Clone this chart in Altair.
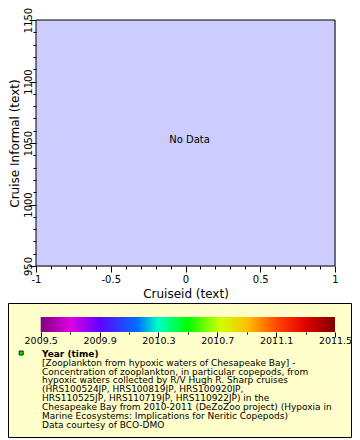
import altair as alt
import pandas as pd

# ---- data ----
x_ticks = [-1.0, -0.9, -0.8, -0.7, -0.6, -0.5, -0.4, -0.3, -0.2, -0.1, 0.0,
           0.1, 0.2, 0.3, 0.4, 0.5, 0.6, 0.7, 0.8, 0.9, 1.0]
y_ticks = [950, 960, 970, 980, 990, 1000, 1010, 1020, 1030, 1040, 1050,
           1060, 1070, 1080, 1090, 1100, 1110, 1120, 1130, 1140, 1150]
year_ticks = [2009.5, 2009.7, 2009.9, 2010.1, 2010.3, 2010.5, 2010.7,
              2010.9, 2011.1, 2011.3, 2011.5]
year_range = [2009.5, 2011.5]
gradient_offsets = [0.0, 0.10, 0.20, 0.33, 0.40, 0.50, 0.61, 0.70, 0.81, 0.90, 1.0]
gradient_colors = ["#800080", "#e000e0", "#6000ff", "#0070ff", "#00ffc8", "#00ff00",
                   "#d0ff00", "#ffc000", "#ff4000", "#e00000", "#800000"]
legend_title = "Year (time)"
legend_lines = [
    "[Zooplankton from hypoxic waters of Chesapeake Bay] -",
    "Concentration of zooplankton, in particular copepods, from",
    "hypoxic waters collected by R/V Hugh R. Sharp cruises",
    "(HRS100524JP, HRS100819JP, HRS100920JP,",
    "HRS110525JP, HRS110719JP, HRS110922JP) in the",
    "Chesapeake Bay from 2010-2011 (DeZoZoo project) (Hypoxia in",
    "Marine Ecosystems: Implications for Neritic Copepods)",
    "Data courtesy of BCO-DMO",
]

W, H = 299, 246
FONT = "DejaVu Sans"

center_df = pd.DataFrame({"cx": [0.0], "cy": [1050.0], "label": ["No Data"]})
one_df = pd.DataFrame({"k": [0]})
bar_df = pd.DataFrame({"y0": [year_range[0]], "y1": [year_range[1]]})

x_axis = alt.Axis(
    values=x_ticks, zindex=1,
    labelExpr="abs(datum.value*2 - round(datum.value*2)) < 1e-6 ? '' + round(datum.value*10)/10 : ''",
    tickSize={"condition": {"test": "abs(datum.value*2 - round(datum.value*2)) < 1e-6", "value": 6}, "value": 3},
    tickColor="black", domain=False, grid=False,
    labelFont=FONT, labelFontSize=10, labelColor="black", labelFlush=False,
    labelOverlap=False, labelPadding=2,
    title="Cruiseid (text)", titleFont=FONT, titleFontSize=12, titleFontWeight="normal",
    titleColor="black", titleY=31, titleBaseline="alphabetic",
)
y_axis = alt.Axis(
    values=y_ticks, zindex=1,
    labelExpr="datum.value % 50 == 0 ? '' + datum.value : ''",
    tickSize={"condition": {"test": "datum.value % 50 == 0", "value": 7}, "value": 3},
    tickColor="black", domain=False, grid=False,
    labelFont=FONT, labelFontSize=10, labelColor="black", labelAngle=270,
    labelAlign="center", labelBaseline="alphabetic", labelFlush=False,
    labelOverlap=False, labelPadding=-2,
    title="Cruise Informal (text)", titleFont=FONT, titleFontSize=12, titleFontWeight="normal",
    titleColor="black", titleAngle=270, titleX=-22, titleY=H / 2,
    titleAlign="center", titleBaseline="middle",
)

plot_bg = alt.Chart(one_df).mark_rect(fill="#ccccff", stroke="black", strokeWidth=1).encode(
    x=alt.value(0), x2=alt.value(W), y=alt.value(0), y2=alt.value(H)
)

main = alt.Chart(center_df).mark_text(
    font=FONT, fontSize=10, color="black", baseline="alphabetic", align="center", dx=4
).encode(
    x=alt.X("cx:Q", scale=alt.Scale(domain=[-1, 1], nice=False, zero=False), axis=x_axis),
    y=alt.Y("cy:Q", scale=alt.Scale(domain=[950, 1150], nice=False, zero=False), axis=y_axis),
    text="label:N",
)

box = alt.Chart(one_df).mark_rect(fill="#ffffcc", stroke="black", strokeWidth=1, clip=False).encode(
    x=alt.value(-27.5), x2=alt.value(315.5), y=alt.value(283.5), y2=alt.value(417.5)
)

gradient = alt.LinearGradient(
    gradient="linear", x1=0, x2=1, y1=0, y2=0,
    stops=[alt.GradientStop(offset=o, color=c) for o, c in zip(gradient_offsets, gradient_colors)],
)
year_axis = alt.Axis(
    orient="bottom", offset=66, values=year_ticks, zindex=2,
    labelExpr="abs((datum.value-2009.5)/0.4 - round((datum.value-2009.5)/0.4)) < 1e-6 ? format(datum.value, '.1f') : ''",
    tickSize={"condition": {"test": "abs((datum.value-2009.5)/0.4 - round((datum.value-2009.5)/0.4)) < 1e-6", "value": 5}, "value": 2},
    tickColor="black", domain=False, grid=False,
    labelFont=FONT, labelFontSize=9.5, labelColor="black", labelFlush=False,
    labelOverlap=False, labelPadding=-2, title=None,
)
colorbar = alt.Chart(bar_df).mark_rect(fill=gradient, clip=False).encode(
    x=alt.X("y0:Q", scale=alt.Scale(domain=year_range, range=[4.7, 299], nice=False, zero=False), axis=year_axis),
    x2="y1:Q",
    y=alt.value(297), y2=alt.value(312),
)

marker = alt.Chart(one_df).mark_square(
    size=16, fill="#00e000", stroke="#003300", strokeWidth=1, opacity=1, clip=False
).encode(x=alt.value(-14.8), y=alt.value(333))

title_txt = alt.Chart(pd.DataFrame({"t": [legend_title]})).mark_text(
    font=FONT, fontSize=9, fontWeight="bold", color="black", align="left", baseline="alphabetic"
).encode(x=alt.value(6), y=alt.value(336.7), text="t:N")

body_txt = alt.Chart(pd.DataFrame({"t": ["\n".join(legend_lines)]})).mark_text(
    font=FONT, fontSize=9, color="black", align="left", baseline="alphabetic",
    lineBreak="\n", lineHeight=8.9
).encode(x=alt.value(6), y=alt.value(345.7), text="t:N")

chart = alt.layer(plot_bg, box, main, colorbar, marker, title_txt, body_txt).resolve_scale(
    x="independent"
).properties(
    width=W, height=H,
    autosize=alt.AutoSizeParams(type="none"),
    padding={"left": 28, "top": 12, "right": 17, "bottom": 174},
).configure_view(
    stroke=None
).configure(font=FONT)

chart.save("out.html", embed_options={"renderer": "svg", "actions": False})
